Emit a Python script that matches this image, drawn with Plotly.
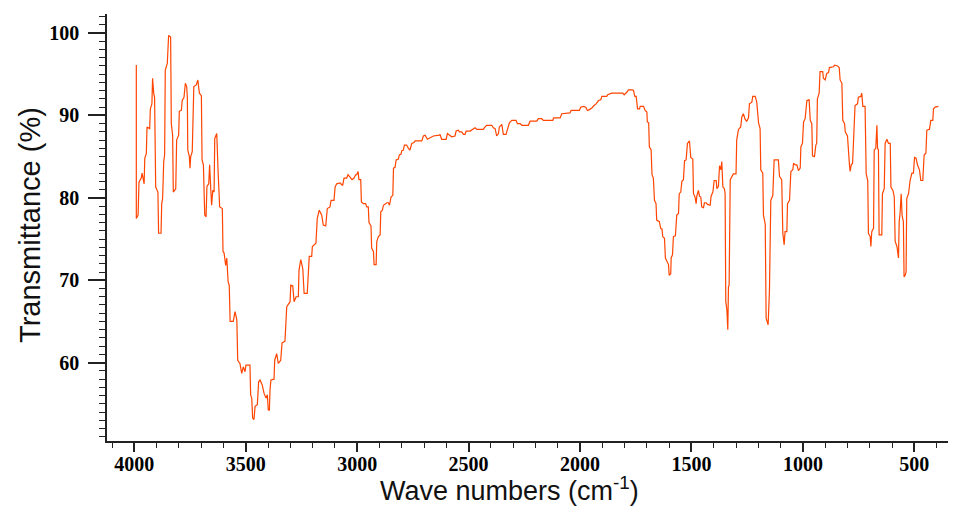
import plotly.graph_objects as go

# Wavenumbers (cm^-1) and transmittance (%)
wavenumber = [
    3991, 3991, 3983, 3979, 3969, 3965, 3956, 3953, 3946, 3943, 3931, 3928, 3921, 3918, 3913, 3909,
    3904, 3894, 3891, 3880, 3877, 3873, 3868, 3864, 3861, 3852, 3846, 3837, 3834, 3828, 3825, 3814,
    3810, 3801, 3798, 3789, 3785, 3777, 3771, 3765, 3762, 3760, 3753, 3750, 3747, 3740, 3733, 3722,
    3715, 3708, 3699, 3696, 3690, 3684, 3678, 3674, 3666, 3662, 3657, 3653, 3648, 3642, 3639, 3630,
    3624, 3617, 3605, 3602,
    3597, 3590, 3585, 3579, 3574, 3570, 3556, 3548, 3540, 3536, 3526, 3518, 3511, 3503, 3499, 3481,
    3478, 3473, 3469, 3463, 3458, 3448, 3442, 3436, 3426, 3418, 3409, 3403, 3399, 3394, 3391, 3387,
    3373, 3370, 3361, 3354, 3343, 3337, 3324, 3316, 3301, 3298, 3289, 3283, 3274, 3264, 3261, 3253,
    3244, 3238, 3224, 3220, 3215, 3204, 3201, 3185, 3179, 3170, 3159, 3152, 3141, 3134, 3122, 3117,
    3104, 3099, 3092, 3077,
    3065, 3059, 3047, 3041, 3032, 3023, 3014, 3007, 3002, 2996, 2992, 2984, 2981, 2972, 2962, 2957,
    2950, 2947, 2938, 2935, 2927, 2924, 2915, 2912, 2905, 2897, 2894, 2887, 2882, 2875, 2867, 2860,
    2855, 2848, 2840, 2837, 2830, 2825, 2815, 2811, 2803, 2800, 2793, 2788, 2778, 2770, 2763, 2755,
    2745, 2740, 2710, 2703, 2695, 2685, 2665, 2658, 2631, 2628, 2621, 2601, 2595, 2583, 2576, 2561,
    2556, 2546, 2541, 2531, 2523, 2516, 2511, 2493, 2486, 2478, 2471, 2463, 2434, 2426, 2419, 2396,
    2389, 2381, 2374, 2366, 2362, 2351, 2344, 2332, 2321, 2317, 2306, 2287, 2281, 2269, 2261, 2232,
    2224, 2194, 2187, 2172, 2164, 2122, 2119, 2089, 2082, 2045, 2040, 2003, 1997, 1985, 1974, 1967,
    1958, 1947, 1937, 1928, 1917, 1907, 1902, 1880, 1876, 1858, 1808, 1802, 1790, 1783, 1765,
    1760, 1754, 1748, 1742, 1733, 1730, 1715, 1708, 1700, 1698, 1692, 1689, 1681, 1677, 1671, 1666,
    1659, 1656, 1644, 1638, 1632, 1629, 1621, 1617, 1611, 1603, 1600, 1593, 1591, 1585, 1581, 1572,
    1566, 1558, 1555, 1548, 1543, 1536, 1531, 1524, 1518, 1509, 1503, 1494, 1491, 1484, 1479, 1476,
    1469, 1464, 1458, 1454, 1446, 1442, 1434, 1428, 1416, 1412, 1404, 1398, 1389, 1386, 1379, 1374,
    1368, 1364, 1359, 1352, 1349, 1346, 1341, 1337, 1334, 1331, 1326, 1319, 1312, 1300, 1297, 1289,
    1279, 1274, 1267, 1259, 1252, 1244, 1240, 1229, 1225, 1214, 1207, 1199, 1192, 1189, 1180, 1177,
    1169, 1165, 1156, 1150, 1144, 1135, 1129, 1110, 1105, 1095,
    1090, 1084, 1080, 1072, 1069, 1060, 1054, 1045, 1042, 1035, 1027, 1020, 1012, 1009, 1002, 997,
    990, 982, 972, 967, 960, 957, 948, 942, 938, 935, 927, 923, 911, 908, 900, 893,
    885, 881, 863, 858, 845, 837, 833, 825, 821, 813, 810, 800, 795, 791, 788, 783,
    777, 773, 766, 755, 751, 740, 736, 731, 721, 716, 709, 706, 698, 695, 691, 683,
    680, 673, 668, 665, 661, 658, 646, 643, 635, 631, 623, 616, 608, 605, 596, 590,
    586, 578, 571, 568, 564, 559, 555, 549, 546, 541, 537, 534, 526, 519, 511, 504,
    499, 492, 486, 477, 471, 462, 456, 448, 444, 432, 426, 417, 414, 406, 399, 392,
]

transmittance = [
    96.1, 77.5, 77.9, 81.9, 82.4, 83.0, 81.7, 84.8, 85.4, 88.6, 88.4, 90.8, 91.4, 94.5, 92.7, 92.2,
    81.3, 80.7, 75.7, 75.7, 79.3, 79.9, 84.4, 85.2, 95.5, 96.3, 99.7, 99.5, 89.0, 87.6, 80.7, 81.1,
    87.0, 87.6, 90.5, 90.6, 91.8, 92.2, 93.9, 93.5, 92.2, 85.8, 85.0, 83.6, 85.0, 85.6, 93.5, 93.7,
    94.3, 92.7, 92.4, 84.6, 84.0, 77.9, 77.7, 81.4, 81.7, 84.0, 81.1, 79.1, 80.9, 80.7, 87.2, 87.8,
    83.2, 78.9, 78.7, 73.5,
    73.3, 71.8, 72.7, 69.8, 69.4, 65.0, 65.0, 66.2, 65.2, 60.3, 59.9, 58.7, 59.5, 58.9, 59.7, 59.7,
    56.1, 55.7, 53.3, 53.1, 54.7, 54.9, 57.7, 57.9, 57.3, 56.3, 55.7, 56.1, 54.3, 54.2, 56.7, 57.9,
    58.0, 60.3, 61.1, 59.9, 60.3, 62.4, 62.6, 66.8, 67.4, 69.4, 69.3, 67.4, 68.0, 68.0, 71.2, 72.5,
    71.4, 68.4, 68.4, 70.4, 72.9, 72.9, 74.1, 74.5, 77.5, 78.5, 77.9, 76.7, 76.6, 78.7, 78.9, 79.7,
    79.7, 81.3, 81.7, 81.8,
    81.5, 82.4, 82.4, 82.8, 82.5, 82.2, 82.4, 82.8, 82.8, 83.2, 82.2, 82.2, 79.5, 79.3, 79.3, 78.9,
    78.9, 77.0, 76.6, 73.9, 73.5, 71.9, 71.9, 74.7, 75.3, 75.5, 78.3, 78.5, 79.1, 79.3, 79.4, 79.4,
    79.1, 80.1, 80.3, 83.6, 83.7, 84.6, 84.7, 85.2, 85.3, 85.7, 85.8, 86.4, 86.4, 86.0, 85.8, 86.6,
    86.7, 86.9, 86.9, 87.5, 87.6, 87.1, 87.4, 87.5, 87.6, 87.7, 87.1, 87.1, 87.8, 87.6, 87.4, 87.5,
    88.1, 88.2, 88.0, 88.0, 87.7, 87.7, 88.1, 88.1, 88.2, 88.4, 88.5, 88.3, 88.3, 88.6, 88.8, 88.8,
    88.5, 88.4, 87.5, 87.8, 88.6, 88.9, 87.7, 87.7, 88.6, 89.1, 89.4, 89.4, 89.0, 89.0, 88.8, 88.8,
    89.3, 89.3, 89.6, 89.6, 89.4, 89.4, 89.7, 89.7, 90.2, 90.3, 90.6, 90.6, 91.0, 91.1, 91.0, 90.6,
    90.7, 90.9, 91.2, 91.4, 91.8, 91.9, 92.3, 92.3, 92.5, 92.7, 92.7, 92.5, 92.8, 93.1, 93.1,
    93.0, 92.3, 92.3, 90.8, 90.8, 91.1, 91.1, 90.6, 90.4, 89.2, 89.1, 86.2, 85.8, 82.8, 82.4, 79.7,
    79.3, 77.3, 77.1, 76.3, 76.2, 75.3, 75.1, 72.7, 72.3, 71.9, 70.6, 70.8, 72.7, 73.1, 75.3, 75.4,
    77.9, 78.1, 80.5, 80.7, 82.0, 82.2, 84.5, 84.6, 86.6, 86.9, 84.9, 84.7, 80.5, 80.1, 79.3, 80.2,
    80.9, 80.2, 80.1, 78.9, 78.8, 79.4, 79.4, 79.2, 79.1, 80.2, 80.7, 82.1, 82.1, 81.1, 81.4, 83.9,
    83.4, 84.4, 81.3, 81.1, 80.5, 67.4, 66.4, 64.0, 69.2, 69.4, 82.2, 82.6, 82.9, 82.9, 87.0, 88.3,
    88.6, 89.8, 90.2, 89.5, 89.3, 89.7, 91.4, 91.6, 92.3, 92.3, 91.6, 89.1, 88.4, 83.4, 83.0, 77.9,
    76.8, 65.4, 64.6, 68.8, 79.7, 80.3, 84.6, 84.6, 82.6, 82.2,
    75.7, 74.3, 75.9, 75.9, 79.3, 79.7, 83.2, 83.4, 84.2, 84.0, 84.0, 83.3, 83.6, 86.2, 86.6, 89.2,
    89.6, 91.8, 91.9, 89.4, 89.0, 85.1, 85.0, 86.4, 86.6, 92.0, 92.7, 95.3, 95.3, 94.5, 94.3, 95.1,
    95.2, 95.8, 95.9, 96.1, 96.0, 95.8, 94.3, 93.9, 89.4, 89.0, 88.0, 87.5, 84.4, 84.0, 83.2, 84.0,
    84.2, 87.3, 91.2, 91.4, 92.2, 92.3, 92.7, 91.1, 91.1, 82.9, 82.1, 75.7, 75.3, 74.1, 75.9, 76.3,
    85.8, 86.0, 88.8, 86.0, 85.8, 75.5, 75.5, 80.5, 81.1, 86.6, 87.1, 86.6, 86.6, 81.3, 80.9, 80.1,
    74.7, 74.1, 72.7, 77.1, 78.1, 80.5, 77.9, 77.1, 70.4, 70.6, 71.0, 79.9, 80.5, 82.1, 83.0, 83.0,
    84.9, 84.8, 84.0, 83.4, 82.1, 82.1, 85.2, 85.4, 88.2, 88.3, 89.4, 89.4, 90.8, 91.0, 91.1, 91.1,
]

x_ticks = [4000, 3500, 3000, 2500, 2000, 1500, 1000, 500]
y_ticks = [60, 70, 80, 90, 100]

x_title = "Wave numbers (cm<sup>-1</sup>)"
y_title = "Transmittance (%)"

fig = go.Figure(
    go.Scatter(
        x=wavenumber, y=transmittance, mode="lines",
        line=dict(color="#FF4500", width=1.2), showlegend=False,
    )
)

tick_font = dict(family="Liberation Serif", size=20, color="black", weight="bold")
axis_col = "#222222"

fig.update_xaxes(
    range=[4122.5, 313], tickvals=x_ticks, ticktext=[str(v) for v in x_ticks],
    ticks="outside", ticklen=9, tickwidth=1.5, tickcolor=axis_col,
    showline=True, linecolor=axis_col, linewidth=1.5, showgrid=False, zeroline=False,
    tickfont=tick_font, automargin=False, ticklabelstandoff=-5,
    minor=dict(dtick=100, tick0=0, ticks="outside", ticklen=5, tickwidth=1.2, tickcolor=axis_col, showgrid=False),
)
fig.update_yaxes(
    range=[50.5, 102.3], tickvals=y_ticks, ticktext=[str(v) for v in y_ticks],
    ticks="outside", ticklen=17, tickwidth=1.5, tickcolor=axis_col,
    showline=True, linecolor=axis_col, linewidth=1.5, showgrid=False, zeroline=False,
    tickfont=tick_font, automargin=False, ticklabelstandoff=5,
    minor=dict(dtick=1, tick0=0, ticks="outside", ticklen=6, tickwidth=1.2, tickcolor=axis_col, showgrid=False),
)

# The page body adds an 8 px offset, so the figure is 8 px smaller and margins shifted.
fig.update_layout(
    width=948, height=500,
    margin=dict(l=99, r=0, t=6, b=67),
    plot_bgcolor="white", paper_bgcolor="white",
    annotations=[
        dict(text=x_title, xref="paper", yref="paper",
             x=0.4735, y=-0.112, xanchor="center", yanchor="middle", showarrow=False,
             font=dict(family="Liberation Sans", size=27, color="#111111")),
        dict(text=y_title, xref="paper", yref="paper", textangle=-90,
             x=-0.0907, y=0.506, xanchor="center", yanchor="middle", showarrow=False,
             font=dict(family="Liberation Sans", size=29, color="#111111")),
    ],
)

fig.write_html("out.html")
